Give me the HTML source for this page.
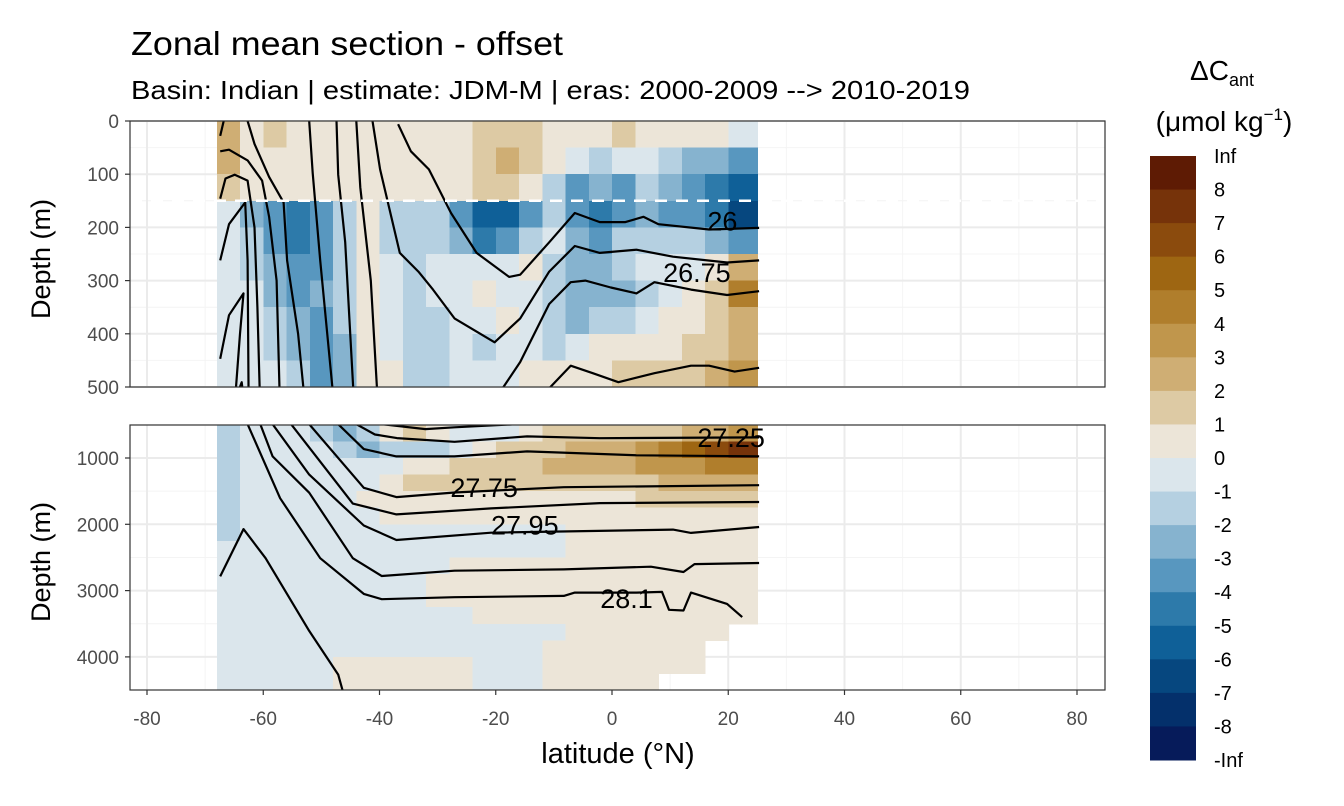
<!DOCTYPE html>
<html><head><meta charset="utf-8"><style>
body{margin:0;background:#fff}
svg{display:block;font-family:"Liberation Sans",sans-serif}
</style></head><body>
<svg id="chart" width="1344" height="806" viewBox="0 0 1344 806">
<defs>
<clipPath id="clipTop"><rect x="130" y="121" width="975" height="266"/></clipPath>
<clipPath id="clipBot"><rect x="130" y="425" width="975" height="265"/></clipPath>
</defs>
<rect width="1344" height="806" fill="#fff"/>
<text x="131" y="55" font-size="33" fill="#000" textLength="432" lengthAdjust="spacingAndGlyphs">Zonal mean section - offset</text>
<text x="131" y="99" font-size="26" fill="#000" textLength="839" lengthAdjust="spacingAndGlyphs">Basin: Indian | estimate: JDM-M | eras: 2000-2009 --&gt; 2010-2019</text>
<g id="gTop"></g>
<g id="gBot"></g>
<g id="gAxes"></g>
<text x="618" y="763" font-size="29" text-anchor="middle" fill="#000">latitude (°N)</text>
<text transform="translate(50,259) rotate(-90)" font-size="27" text-anchor="middle" fill="#000">Depth (m)</text>
<text transform="translate(50,562) rotate(-90)" font-size="27" text-anchor="middle" fill="#000">Depth (m)</text>
<g>
<text x="1222" y="80" font-size="28" text-anchor="middle" fill="#000">ΔC<tspan font-size="18" dy="6">ant</tspan></text>
<text x="1224" y="131" font-size="28" text-anchor="middle" fill="#000">(μmol kg<tspan font-size="17" dy="-11">−1</tspan><tspan dy="11">)</tspan></text>
<g id="gLeg"></g>
</g>
</svg>
<script>
const NS="http://www.w3.org/2000/svg";
// ---- data ----
const lats=[-66,-62,-58,-54,-50,-46,-42,-38,-34,-30,-26,-22,-18,-14,-10,-6,-2,2,6,10,14,18,22];
const latMin=-68, latMax=25;
const topDepthEdges=[0,50,100,150,200,250,300,350,400,450,500];
const topRows=[
[2.5,0.5,1.5,0.5,0.5,0.5,0.5,0.5,0.5,0.5,0.5,1.5,1.5,1.5,0.5,0.5,0.5,1.5,0.5,0.5,0.5,0.5,-0.5],
[2.5,0.5,0.5,0.5,0.5,0.5,0.5,0.5,0.5,0.5,0.5,1.5,2.5,1.5,0.5,-0.5,-1.5,-0.5,-0.5,-1.5,-2.5,-2.5,-3.5],
[1.5,0.5,0.5,0.5,0.5,0.5,0.5,0.5,0.5,0.5,0.5,1.5,1.5,0.5,-1.5,-3.5,-2.5,-3.5,-1.5,-2.5,-3.5,-4.5,-5.5],
[-0.5,-2.5,-3.5,-4.5,-3.5,-1.5,0.5,-1.5,-1.5,-1.5,-3.5,-5.5,-5.5,-3.5,-1.5,-3.5,-4.5,-3.5,-2.5,-3.5,-3.5,-4.5,-6.5],
[-0.5,-1.5,-3.5,-4.5,-3.5,-1.5,0.5,-1.5,-1.5,-1.5,-2.5,-4.5,-3.5,-1.5,-0.5,-2.5,-3.5,-1.5,-1.5,-1.5,-1.5,-2.5,-3.5],
[-0.5,-1.5,-2.5,-3.5,-3.5,-1.5,0.5,-0.5,-1.5,-0.5,-0.5,-0.5,-0.5,0.5,-1.5,-2.5,-2.5,-1.5,-0.5,-0.5,-0.5,0.5,2.5],
[-0.5,-0.5,-2.5,-3.5,-2.5,-1.5,0.5,-0.5,-1.5,-0.5,-0.5,0.5,-0.5,-0.5,-1.5,-2.5,-2.5,-2.5,-1.5,-0.5,0.5,1.5,4.5],
[-0.5,-0.5,-1.5,-2.5,-3.5,-1.5,0.5,-0.5,-1.5,-1.5,-0.5,-0.5,0.5,-0.5,-1.5,-2.5,-1.5,-1.5,-0.5,0.5,0.5,1.5,2.5],
[-0.5,-0.5,-1.5,-2.5,-3.5,-2.5,0.5,-0.5,-1.5,-1.5,-0.5,-1.5,-0.5,-0.5,-1.5,-0.5,0.5,0.5,0.5,0.5,1.5,1.5,2.5],
[-0.5,-0.5,-0.5,-1.5,-3.5,-2.5,0.5,0.5,-1.5,-1.5,-0.5,-0.5,-0.5,0.5,0.5,0.5,0.5,1.5,1.5,1.5,1.5,2.5,3.5]
];
const botDepthEdges=[500,750,1000,1250,1500,1750,2000,2250,2500,2750,3000,3250,3500,3750,4000,4250,4500];
const N=null;
const botRows=[
[-1.5,-0.5,-0.5,-0.5,-1.5,-2.5,-1.5,0.5,1.5,0.5,-0.5,-0.5,-0.5,0.5,1.5,1.5,1.5,1.5,1.5,1.5,2.5,2.5,3.5],
[-1.5,-0.5,-0.5,-0.5,-0.5,-1.5,-2.5,-1.5,-1.5,-1.5,-0.5,0.5,1.5,1.5,1.5,2.5,2.5,2.5,3.5,4.5,5.5,6.5,7.5],
[-1.5,-0.5,-0.5,-0.5,-0.5,-0.5,-0.5,-0.5,0.5,0.5,1.5,1.5,1.5,1.5,2.5,2.5,2.5,2.5,3.5,3.5,3.5,4.5,4.5],
[-1.5,-0.5,-0.5,-0.5,-0.5,-0.5,-0.5,0.5,1.5,1.5,1.5,1.5,1.5,1.5,1.5,1.5,1.5,1.5,1.5,2.5,2.5,2.5,2.5],
[-1.5,-0.5,-0.5,-0.5,-0.5,-0.5,0.5,0.5,0.5,0.5,0.5,0.5,0.5,0.5,0.5,0.5,0.5,0.5,1.5,1.5,1.5,1.5,1.5],
[-1.5,-0.5,-0.5,-0.5,-0.5,-0.5,-0.5,0.5,0.5,0.5,0.5,0.5,0.5,0.5,0.5,0.5,0.5,0.5,0.5,0.5,0.5,0.5,0.5],
[-1.5,-0.5,-0.5,-0.5,-0.5,-0.5,-0.5,-0.5,-0.5,-0.5,-0.5,-0.5,-0.5,-0.5,-0.5,0.5,0.5,0.5,0.5,0.5,0.5,0.5,0.5],
[-0.5,-0.5,-0.5,-0.5,-0.5,-0.5,-0.5,-0.5,-0.5,-0.5,-0.5,-0.5,-0.5,-0.5,-0.5,0.5,0.5,0.5,0.5,0.5,0.5,0.5,0.5],
[-0.5,-0.5,-0.5,-0.5,-0.5,-0.5,-0.5,-0.5,-0.5,-0.5,0.5,0.5,0.5,0.5,0.5,0.5,0.5,0.5,0.5,0.5,0.5,0.5,0.5],
[-0.5,-0.5,-0.5,-0.5,-0.5,-0.5,-0.5,-0.5,-0.5,0.5,0.5,0.5,0.5,0.5,0.5,0.5,0.5,0.5,0.5,0.5,0.5,0.5,0.5],
[-0.5,-0.5,-0.5,-0.5,-0.5,-0.5,-0.5,-0.5,-0.5,0.5,0.5,0.5,0.5,0.5,0.5,0.5,0.5,0.5,0.5,0.5,0.5,0.5,0.5],
[-0.5,-0.5,-0.5,-0.5,-0.5,-0.5,-0.5,-0.5,-0.5,-0.5,-0.5,0.5,0.5,0.5,0.5,0.5,0.5,0.5,0.5,0.5,0.5,0.5,0.5],
[-0.5,-0.5,-0.5,-0.5,-0.5,-0.5,-0.5,-0.5,-0.5,-0.5,-0.5,-0.5,-0.5,-0.5,-0.5,0.5,0.5,0.5,0.5,0.5,0.5,0.5,N],
[-0.5,-0.5,-0.5,-0.5,-0.5,-0.5,-0.5,-0.5,-0.5,-0.5,-0.5,-0.5,-0.5,-0.5,0.5,0.5,0.5,0.5,0.5,0.5,0.5,N,N],
[-0.5,-0.5,-0.5,-0.5,-0.5,0.5,0.5,0.5,0.5,0.5,0.5,-0.5,-0.5,-0.5,0.5,0.5,0.5,0.5,0.5,0.5,0.5,N,N],
[-0.5,-0.5,-0.5,-0.5,-0.5,0.5,0.5,0.5,0.5,0.5,0.5,-0.5,-0.5,-0.5,0.5,0.5,0.5,0.5,0.5,N,N,N,N]
];
const binColors=["#5e1b04","#76330a","#8b4b0d","#9e6612","#b07e2c","#c0964c","#cfae74","#ddcaa4","#ece5d8","#dbe6ec","#b5d0e1","#86b3cf","#5897bf","#2d7aaa","#0f6098","#06477f","#04306b","#061b5a"];
const binLabels=["Inf","8","7","6","5","4","3","2","1","0","-1","-2","-3","-4","-5","-6","-7","-8","-Inf"];
const topContours=[
[[-36.8,6],[-34.6,57],[-31.5,91],[-27.7,173],[-23.3,248],[-17.7,293],[-15.8,289],[-10.8,228],[-6.4,173],[-2.1,190],[2.3,190],[5.4,180],[8.0,194],[16.7,204],[25.3,201]],
[[-41.2,0],[-39.9,91],[-36.5,248],[-33.3,283],[-30.8,317],[-27.1,371],[-20.2,416],[-15.8,371],[-10.8,283],[-6.4,235],[-2.1,248],[4.2,242],[10.5,255],[19.8,266],[25.3,262]],
[[-21.5,546],[-15.8,453],[-10.8,344],[-7.1,303],[-4.6,300],[-0.2,313],[4.2,324],[7.3,303],[13.6,317],[19.8,327],[25.3,320]],
[[-14.6,546],[-7.1,460],[-3.3,474],[1.1,491],[7.3,474],[13.6,460],[16.7,460],[21.1,471],[25.3,464]],
[[-44.0,0],[-43.3,125],[-41.5,300],[-40.2,546]],
[[-47.4,0],[-47.1,101],[-45.9,228],[-44.3,546]],
[[-52.1,0],[-51.5,98],[-50.2,262],[-47.7,546]],
[[-62.7,0],[-61.5,43],[-59.0,105],[-56.5,153],[-55.9,262],[-54.0,400],[-52.7,546]],
[[-67.4,57],[-65.9,54],[-62.7,74],[-60.2,112],[-59.0,180],[-57.7,300],[-57.1,546]],
[[-67.4,146],[-66.5,108],[-64.9,101],[-62.7,112],[-61.5,200],[-61.0,350],[-60.5,546]],
[[-67.4,262],[-65.9,194],[-63.1,153],[-62.7,262],[-62.5,546]],
[[-67.4,447],[-65.9,365],[-63.4,324],[-64.0,400],[-65.0,546]],
[[-66.8,537],[-64.9,526],[-63.7,491],[-63.1,546]],
[[-67.4,28],[-66.8,0]]
];
const botContours=[
[[-39.6,490],[-32.1,564],[-27.1,537],[-16.4,490]],
[[-44.0,490],[-40.8,646],[-37.0,700],[-27.1,756],[-14.6,674],[-2.1,701],[25.3,690]],
[[-47.1,490],[-42.7,866],[-37.1,976],[-27.1,976],[-14.6,900],[4.2,960],[25.3,975]],
[[-52.1,490],[-42.7,1450],[-37.1,1590],[-27.1,1520],[-8.3,1440],[25.3,1410]],
[[-55.2,490],[-44.6,1688],[-37.1,1850],[-20.8,1760],[-2.1,1680],[25.3,1663]],
[[-58.4,490],[-52.1,1250],[-42.7,2018],[-37.1,2237],[-20.8,2127],[10.5,2080],[13.6,2130],[25.3,2040]],
[[-60.5,490],[-58.4,976],[-52.1,1524],[-44.6,2511],[-39.6,2780],[-27.1,2700],[-8.3,2680],[6.7,2640],[12.3,2720],[14.2,2600],[25.3,2584]],
[[-62.7,490],[-57.1,1606],[-50.2,2511],[-42.7,3050],[-39.6,3130],[-27.1,3100],[-8.3,3080],[-6.4,3030],[4.2,3030],[8.6,3020],[9.8,3290],[12.3,3300],[13.6,3030],[19.8,3200],[22.4,3400]],
[[-67.4,2786],[-63.4,2073],[-59.6,2511],[-52.1,3608],[-47.1,4267],[-45.2,4870]]
];
const contourLabels=[
{panel:"top",text:"26",lat:19,depth:187},
{panel:"top",text:"26.75",lat:14.6,depth:284},
{panel:"bot",text:"27.25",lat:20.5,depth:685},
{panel:"bot",text:"27.75",lat:-22,depth:1440},
{panel:"bot",text:"27.95",lat:-15,depth:2000},
{panel:"bot",text:"28.1",lat:2.5,depth:3110}
];
const xTicks=[-80,-60,-40,-20,0,20,40,60,80];
const xMinor=[-70,-50,-30,-10,10,30,50,70];
const topYTicks=[0,100,200,300,400,500];
const topYMinor=[50,150,250,350,450];
const botYTicks=[1000,2000,3000,4000];
const botYMinor=[500,1500,2500,3500,4500];
const refDepth=150;
// ---- scales ----
const xS=l=>612+l*5.8125;
const yTop=d=>121+d*0.532;
const yBot=d=>458+(d-1000)*0.0663;
function colorOf(v){let i; if(v>=8)i=0; else if(v<-8)i=17; else i=8-Math.floor(v); return binColors[i];}
function mk(tag,attrs,parent){const e=document.createElementNS(NS,tag);for(const k in attrs)e.setAttribute(k,attrs[k]);parent.appendChild(e);return e;}
function latEdge(i){ if(i===0)return latMin; if(i===lats.length)return latMax; return (lats[i-1]+lats[i])/2; }
const gTop=document.getElementById('gTop'), gBot=document.getElementById('gBot'), gAx=document.getElementById('gAxes');
function panel(g,y0,y1,yS,yT,yM,depthEdges,rows,contours,clip,name){
  mk('rect',{x:130,y:y0,width:975,height:y1-y0,fill:'#fff'},g);
  const grid=mk('g',{},g);
  
  
  xMinor.forEach(t=>mk('line',{x1:xS(t),x2:xS(t),y1:y0,y2:y1,stroke:'#f4f4f4','stroke-width':1},grid));
  yM.forEach(t=>mk('line',{x1:130,x2:1105,y1:yS(t),y2:yS(t),stroke:'#f4f4f4','stroke-width':1},grid));
  xTicks.forEach(t=>mk('line',{x1:xS(t),x2:xS(t),y1:y0,y2:y1,stroke:'#ebebeb','stroke-width':2},grid));
  yT.forEach(t=>mk('line',{x1:130,x2:1105,y1:yS(t),y2:yS(t),stroke:'#ebebeb','stroke-width':2},grid));
  const field=mk('g',{'clip-path':'url(#'+clip+')','shape-rendering':'crispEdges'},g);
  
  
  rows.forEach((row,r)=>{row.forEach((v,i)=>{ if(v===null)return;
    const xa=xS(latEdge(i)), xb=xS(latEdge(i+1)), ya=yS(depthEdges[r]), yb=yS(depthEdges[r+1]);
    const c=mk('rect',{x:xa,y:ya,width:xb-xa+0.6,height:yb-ya+0.6,fill:colorOf(v)},field);
    
    
  });});
  const cg=mk('g',{'clip-path':'url(#'+clip+')'},g);
  
  
  contours.forEach(pts=>{
    const p=mk('polyline',{points:pts.map(q=>xS(q[0]).toFixed(1)+','+yS(q[1]).toFixed(1)).join(' '),fill:'none',stroke:'#000','stroke-width':2.2,'stroke-linejoin':'round'},cg);
    
    
  });
  return cg;
}
const cgTop=panel(gTop,121,387,yTop,topYTicks,topYMinor,topDepthEdges,topRows,topContours,'clipTop','top-panel');
const cgBot=panel(gBot,425,690,yBot,botYTicks,botYMinor,botDepthEdges,botRows,botContours,'clipBot','bottom-panel');
const dl=mk('line',{x1:130,x2:1105,y1:yTop(refDepth),y2:yTop(refDepth),stroke:'#fff','stroke-width':2.5,'stroke-dasharray':'12 9'},gTop);


contourLabels.forEach(L=>{
  const ys=L.panel==='top'?yTop:yBot;
  const t=mk('text',{x:xS(L.lat),y:ys(L.depth)+10,'font-size':27,'text-anchor':'middle',fill:'#000'},L.panel==='top'?gTop:gBot);
  t.textContent=L.text;
  
  
});
// borders & axes
[[121,387],[425,690]].forEach(b=>{const r=mk('rect',{x:130,y:b[0],width:975,height:b[1]-b[0],fill:'none',stroke:'#333','stroke-width':1.2},gAx);
  
  });
xTicks.forEach(t=>{
  mk('line',{x1:xS(t),x2:xS(t),y1:690,y2:695,stroke:'#333','stroke-width':1.2},gAx);
  const tx=mk('text',{x:xS(t),y:725,'font-size':19,'text-anchor':'middle',fill:'#4d4d4d'},gAx);
  tx.textContent=t;
  
  
});
function yAxis(ticks,ys){ticks.forEach(t=>{
  mk('line',{x1:125,x2:130,y1:ys(t),y2:ys(t),stroke:'#333','stroke-width':1.2},gAx);
  const tx=mk('text',{x:119,y:ys(t)+7,'font-size':19,'text-anchor':'end',fill:'#4d4d4d'},gAx);
  tx.textContent=t;
  
  
});}
yAxis(topYTicks,yTop); yAxis(botYTicks,yBot);
// legend
const gLeg=document.getElementById('gLeg');
const lTop=156,lBot=760,lh=(lBot-lTop)/binColors.length;
binColors.forEach((c,i)=>{const r=mk('rect',{x:1150,y:lTop+i*lh,width:46,height:lh+0.5,fill:c},gLeg);
  
  });
binLabels.forEach((s,i)=>{const t=mk('text',{x:1214,y:lTop+i*lh+7,'font-size':20,fill:'#000'},gLeg);
  t.textContent=s;
  
  });
</script>
</body></html>
